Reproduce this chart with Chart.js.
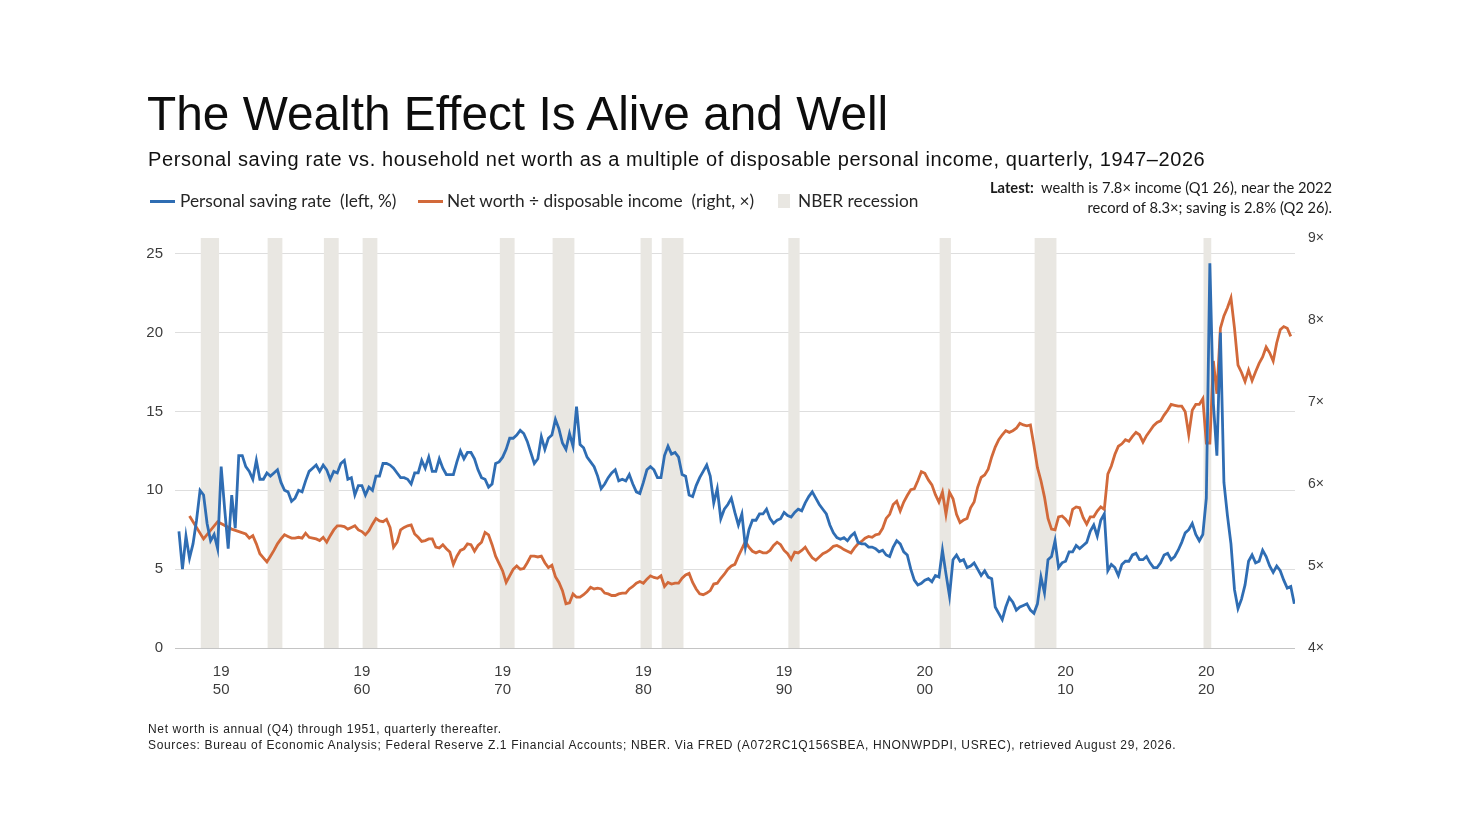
<!DOCTYPE html>
<html>
<head>
<meta charset="utf-8">
<script src="https://cdn.jsdelivr.net/npm/chart.js@4.4.1/dist/chart.umd.min.js"></script>
<style>
    body { margin: 0; background: #fff; width: 1469px; height: 826px; overflow: hidden; position: relative; font-family: "Liberation Sans", Arial, sans-serif; color: #111; }
    #wrap { position: absolute; left: 0; top: 0; width: 1469px; height: 826px; }
    .t { position: absolute; white-space: pre; }
    #title { left: 147px; top: 90px; font-size: 47.8px; line-height: 1; color: #0d0d0d; }
    #subtitle { left: 148px; top: 149px; font-size: 20px; letter-spacing: 0.6px; line-height: 1; color: #111; }
    .leg { top: 190px; height: 22px; line-height: 22px; font-family: Lato, "Open Sans", sans-serif; font-size: 17.3px; color: #262626; }
    .swatch { position: absolute; top: 200px; height: 3px; width: 25px; }
    #latest { right: 137px; top: 177px; text-align: right; font-family: Lato, "Open Sans", sans-serif; font-size: 14.7px; line-height: 20px; color: #1a1a1a; }
    #notes { left: 148px; top: 721px; font-size: 12px; letter-spacing: 0.65px; line-height: 16px; color: #222; }
</style>
</head>
<body>
<div id="wrap"><canvas id="wealthChart"></canvas></div>

<div class="t" id="title">The Wealth Effect Is Alive and Well</div>
<div class="t" id="subtitle">Personal saving rate vs. household net worth as a multiple of disposable personal income, quarterly, 1947–2026</div>

<div class="swatch" style="left:150px;background:#2f6db3"></div>
<div class="t leg" style="left:180px">Personal saving rate  (left, %)</div>
<div class="swatch" style="left:418px;background:#d2693a"></div>
<div class="t leg" style="left:447px">Net worth ÷ disposable income  (right, ×)</div>
<div class="t" style="left:778px;top:194px;width:12px;height:14px;background:#e9e7e2"></div>
<div class="t leg" style="left:798px">NBER recession</div>

<div class="t" id="latest"><b>Latest:</b>  wealth is 7.8× income (Q1 26), near the 2022
record of 8.3×; saving is 2.8% (Q2 26).</div>

<div class="t" id="notes">Net worth is annual (Q4) through 1951, quarterly thereafter.
Sources: Bureau of Economic Analysis; Federal Reserve Z.1 Financial Accounts; NBER. Via FRED (A072RC1Q156SBEA, HNONWPDPI, USREC), retrieved August 29, 2026.</div>

<script>
// Premier trimestre de la série : 1947 Q1
const firstYear = 1947;

// Taux d'épargne personnelle (%), trimestriel, 1947 Q1 -> 2026 Q2
const savingRate = [
    7.4, 5.0, 7.1, 5.7,      // 1947
    6.6, 8.1, 10.0, 9.7,     // 1948
    7.9, 6.8, 7.2, 6.3,      // 1949
    11.5, 8.8, 6.3, 9.7,     // 1950
    7.6, 12.2, 12.2, 11.5,   // 1951
    11.2, 10.7, 11.9, 10.7,  // 1952
    10.7, 11.1, 10.9, 11.1,  // 1953
    11.3, 10.5, 10.0, 9.9,   // 1954
    9.3, 9.5, 10.0, 9.9,     // 1955
    10.6, 11.2, 11.4, 11.6,  // 1956
    11.2, 11.6, 11.3, 10.7,  // 1957
    11.2, 11.1, 11.7, 11.9,  // 1958
    10.7, 10.8, 9.7, 10.3,   // 1959
    10.3, 9.7, 10.2, 10.0,   // 1960
    10.9, 10.9, 11.7, 11.7,  // 1961
    11.6, 11.4, 11.1, 10.8,  // 1962
    10.8, 10.7, 10.4, 11.1,  // 1963
    11.1, 11.9, 11.4, 12.1,  // 1964
    11.2, 11.2, 12.0, 11.4,  // 1965
    11.0, 11.0, 11.0, 11.8,  // 1966
    12.5, 12.0, 12.4, 12.4,  // 1967
    12.0, 11.3, 10.8, 10.7,  // 1968
    10.2, 10.4, 11.7, 11.8,  // 1969
    12.1, 12.6, 13.3, 13.3,  // 1970
    13.5, 13.8, 13.6, 13.1,  // 1971
    12.4, 11.7, 12.0, 13.4,  // 1972
    12.6, 13.3, 13.5, 14.5,  // 1973
    13.9, 13.0, 12.6, 13.6,  // 1974
    12.8, 15.3, 12.9, 12.7,  // 1975
    12.1, 11.8, 11.5, 10.9,  // 1976
    10.1, 10.4, 10.8, 11.1,  // 1977
    11.3, 10.6, 10.7, 10.6,  // 1978
    11.0, 10.4, 9.9, 9.8,    // 1979
    10.5, 11.3, 11.5, 11.3,  // 1980
    10.8, 10.8, 12.2, 12.8,  // 1981
    12.3, 12.4, 12.1, 11.0,  // 1982
    10.9, 9.7, 9.6, 10.3,    // 1983
    10.8, 11.2, 11.6, 10.9,  // 1984
    9.2, 10.1, 8.2, 8.8,     // 1985
    9.1, 9.5, 8.6, 7.8,      // 1986
    8.5, 6.4, 7.5, 8.1,      // 1987
    8.1, 8.5, 8.5, 8.8,      // 1988
    8.2, 7.9, 8.1, 8.2,      // 1989
    8.6, 8.4, 8.3, 8.6,      // 1990
    8.8, 8.7, 9.2, 9.6,      // 1991
    9.9, 9.5, 9.1, 8.8,      // 1992
    8.5, 7.8, 7.3, 7.0,      // 1993
    6.9, 7.0, 6.8, 7.1,      // 1994
    7.3, 6.7, 6.6, 6.6,      // 1995
    6.4, 6.4, 6.3, 6.1,      // 1996
    6.2, 5.9, 5.8, 6.4,      // 1997
    6.8, 6.6, 6.1, 5.9,      // 1998
    5.0, 4.3, 4.0, 4.1,      // 1999
    4.3, 4.4, 4.2, 4.6,      // 2000
    4.5, 6.2, 4.7, 3.3,      // 2001
    5.6, 5.9, 5.5, 5.6,      // 2002
    5.1, 5.2, 5.4, 5.0,      // 2003
    4.6, 4.9, 4.5, 4.4,      // 2004
    2.6, 2.2, 1.8, 2.6,      // 2005
    3.2, 2.9, 2.4, 2.6,      // 2006
    2.7, 2.8, 2.4, 2.2,      // 2007
    2.8, 4.5, 3.5, 5.6,      // 2008
    5.8, 6.8, 5.1, 5.4,      // 2009
    5.5, 6.1, 6.1, 6.5,      // 2010
    6.3, 6.5, 6.7, 7.4,      // 2011
    7.8, 7.1, 8.1, 8.5,      // 2012
    4.9, 5.3, 5.1, 4.6,      // 2013
    5.3, 5.5, 5.5, 5.9,      // 2014
    6.0, 5.6, 5.6, 5.8,      // 2015
    5.4, 5.1, 5.1, 5.4,      // 2016
    5.9, 6.0, 5.6, 5.8,      // 2017
    6.2, 6.7, 7.3, 7.5,      // 2018
    7.9, 7.2, 6.8, 7.2,      // 2019
    9.5, 24.4, 15.5, 12.2,   // 2020
    20.0, 10.5, 8.4, 6.6,    // 2021
    3.7, 2.5, 3.1, 4.0,      // 2022
    5.5, 5.9, 5.4, 5.5,      // 2023
    6.2, 5.8, 5.2, 4.8,      // 2024
    5.2, 4.9, 4.3, 3.8,      // 2025
    3.9, 2.8                 // 2026
];

// Patrimoine net / revenu disponible (×) : annuel (T4) jusqu'en 1951, puis trimestriel
const netWorthRatio = [
    null, null, null, 5.61,  // 1947
    null, null, null, 5.33,  // 1948
    null, null, null, 5.54,  // 1949
    null, null, null, 5.45,  // 1950
    null, null, null, 5.39,  // 1951
    5.34, 5.37, 5.27, 5.15,  // 1952
    5.10, 5.05, 5.12, 5.19,  // 1953
    5.27, 5.33, 5.38, 5.36,  // 1954
    5.34, 5.34, 5.35, 5.34,  // 1955
    5.40, 5.35, 5.34, 5.33,  // 1956
    5.31, 5.35, 5.29, 5.37,  // 1957
    5.44, 5.49, 5.49, 5.48,  // 1958
    5.45, 5.47, 5.49, 5.44,  // 1959
    5.42, 5.38, 5.43, 5.51,  // 1960
    5.58, 5.55, 5.54, 5.57,  // 1961
    5.47, 5.23, 5.29, 5.44,  // 1962
    5.47, 5.49, 5.50, 5.39,  // 1963
    5.35, 5.30, 5.31, 5.33,  // 1964
    5.33, 5.23, 5.22, 5.26,  // 1965
    5.21, 5.17, 5.02, 5.12,  // 1966
    5.19, 5.21, 5.27, 5.26,  // 1967
    5.18, 5.25, 5.29, 5.41,  // 1968
    5.38, 5.26, 5.12, 5.03,  // 1969
    4.94, 4.80, 4.88, 4.96,  // 1970
    5.00, 4.96, 4.97, 5.04,  // 1971
    5.12, 5.12, 5.11, 5.12,  // 1972
    5.04, 4.98, 5.01, 4.87,  // 1973
    4.80, 4.70, 4.54, 4.55,  // 1974
    4.66, 4.62, 4.62, 4.65,  // 1975
    4.69, 4.74, 4.72, 4.73,  // 1976
    4.72, 4.67, 4.66, 4.64,  // 1977
    4.64, 4.66, 4.67, 4.67,  // 1978
    4.72, 4.75, 4.79, 4.81,  // 1979
    4.79, 4.84, 4.88, 4.86,  // 1980
    4.85, 4.88, 4.75, 4.80,  // 1981
    4.78, 4.79, 4.79, 4.85,  // 1982
    4.89, 4.91, 4.80, 4.72,  // 1983
    4.66, 4.65, 4.67, 4.70,  // 1984
    4.78, 4.79, 4.85, 4.90,  // 1985
    4.96, 5.00, 5.02, 5.12,  // 1986
    5.21, 5.30, 5.23, 5.18,  // 1987
    5.16, 5.18, 5.16, 5.16,  // 1988
    5.19, 5.25, 5.29, 5.26,  // 1989
    5.19, 5.15, 5.08, 5.17,  // 1990
    5.16, 5.19, 5.23, 5.16,  // 1991
    5.10, 5.07, 5.11, 5.15,  // 1992
    5.17, 5.20, 5.24, 5.25,  // 1993
    5.23, 5.20, 5.18, 5.16,  // 1994
    5.22, 5.27, 5.30, 5.34,  // 1995
    5.36, 5.35, 5.38, 5.39,  // 1996
    5.46, 5.58, 5.63, 5.75,  // 1997
    5.79, 5.67, 5.78, 5.86,  // 1998
    5.93, 5.94, 6.04, 6.15,  // 1999
    6.13, 6.05, 5.99, 5.87,  // 2000
    5.78, 5.90, 5.63, 5.90,  // 2001
    5.82, 5.63, 5.53, 5.56,  // 2002
    5.58, 5.71, 5.78, 5.96,  // 2003
    6.08, 6.11, 6.18, 6.33,  // 2004
    6.45, 6.54, 6.60, 6.65,  // 2005
    6.63, 6.65, 6.68, 6.74,  // 2006
    6.72, 6.71, 6.72, 6.47,  // 2007
    6.20, 6.04, 5.84, 5.58,  // 2008
    5.45, 5.44, 5.60, 5.61,  // 2009
    5.57, 5.51, 5.69, 5.72,  // 2010
    5.71, 5.59, 5.51, 5.60,  // 2011
    5.60, 5.67, 5.72, 5.69,  // 2012
    6.12, 6.22, 6.36, 6.46,  // 2013
    6.49, 6.54, 6.52, 6.58,  // 2014
    6.63, 6.60, 6.51, 6.59,  // 2015
    6.65, 6.71, 6.75, 6.77,  // 2016
    6.84, 6.90, 6.97, 6.96,  // 2017
    6.95, 6.95, 6.88, 6.60,  // 2018
    6.90, 6.97, 6.97, 7.04,  // 2019
    6.50, 6.50, 7.50, 7.10,  // 2020
    7.90, 8.05, 8.15, 8.27,  // 2021
    7.90, 7.45, 7.36, 7.25,  // 2022
    7.39, 7.26, 7.37, 7.47,  // 2023
    7.55, 7.67, 7.60, 7.50,  // 2024
    7.72, 7.88, 7.92, 7.90,  // 2025
    7.80                     // 2026
];

// Récessions NBER (premier et dernier trimestre)
const recessions = [
    ['1948Q4', '1949Q4'], ['1953Q3', '1954Q2'], ['1957Q3', '1958Q2'],
    ['1960Q2', '1961Q1'], ['1970Q1', '1970Q4'], ['1973Q4', '1975Q1'],
    ['1980Q1', '1980Q3'], ['1981Q3', '1982Q4'], ['1990Q3', '1991Q1'],
    ['2001Q2', '2001Q4'], ['2008Q1', '2009Q2'], ['2020Q1', '2020Q2']
];

// Graduations
const decadeTicks = [1950, 1960, 1970, 1980, 1990, 2000, 2010, 2020];
const leftTicks = [0, 5, 10, 15, 20, 25];
const rightTicks = [4, 5, 6, 7, 8, 9];

// Utilitaires
function quarterToYear(q) {
    return parseInt(q.slice(0, 4), 10) + (parseInt(q.slice(5), 10) - 1) / 4;
}

function toPoints(values) {
    return values.map((v, i) => ({ x: firstYear + i / 4, y: v }));
}

const tickFont = { family: '"Liberation Sans", Arial, sans-serif', size: 15 };
const tickColor = '#3d3d3d';

// Bandes de récession dessinées sous les courbes
const recessionBands = {
    id: 'recessionBands',
    beforeDatasetsDraw(chart) {
        const { ctx, chartArea, scales } = chart;
        ctx.save();
        ctx.fillStyle = '#e9e7e2';
        recessions.forEach(([start, end]) => {
            const x1 = scales.x.getPixelForValue(quarterToYear(start) - 0.2);
            const x2 = scales.x.getPixelForValue(quarterToYear(end) + 0.1);
            ctx.fillRect(x1, chartArea.top, x2 - x1, chartArea.bottom - chartArea.top);
        });
        ctx.restore();
    }
};

new Chart(document.getElementById('wealthChart'), {
    type: 'line',
    data: {
        datasets: [{
            label: 'Personal saving rate (left, %)',
            data: toPoints(savingRate),
            yAxisID: 'y',
            borderColor: '#2f6db3',
            borderWidth: 2.8,
            pointRadius: 0,
            tension: 0
        }, {
            label: 'Net worth ÷ disposable income (right, ×)',
            data: toPoints(netWorthRatio),
            yAxisID: 'y2',
            borderColor: '#d2693a',
            borderWidth: 2.8,
            pointRadius: 0,
            spanGaps: true,
            tension: 0
        }]
    },
    options: {
        responsive: true,
        maintainAspectRatio: false,
        animation: false,
        layout: { padding: { top: 238, left: 0, right: 0, bottom: 0 } },
        plugins: {
            legend: { display: false },
            tooltip: { enabled: false }
        },
        scales: {
            x: {
                type: 'linear',
                min: 1946.72,
                max: 2026.3,
                afterBuildTicks: (scale) => { scale.ticks = decadeTicks.map(v => ({ value: v })); },
                afterFit: (scale) => { scale.height = 178; },
                grid: { display: false },
                border: { display: false },
                ticks: {
                    font: { ...tickFont, lineHeight: 1.2 },
                    color: tickColor,
                    padding: 7,
                    maxRotation: 0,
                    callback: (v) => [String(v).slice(0, 2), String(v).slice(2)]
                }
            },
            y: {
                position: 'left',
                min: 0,
                max: 26,
                afterBuildTicks: (scale) => { scale.ticks = leftTicks.map(v => ({ value: v })); },
                afterFit: (scale) => { scale.width = 175; },
                grid: {
                    drawTicks: false,
                    color: (c) => c.tick && c.tick.value === 0 ? '#c4c4c4' : '#dedede'
                },
                border: { display: false },
                ticks: { font: tickFont, color: tickColor, padding: 12 }
            },
            y2: {
                position: 'right',
                min: 4,
                max: 9,
                afterBuildTicks: (scale) => { scale.ticks = rightTicks.map(v => ({ value: v })); },
                afterFit: (scale) => { scale.width = 174; },
                grid: { display: false, drawTicks: false },
                border: { display: false },
                ticks: {
                    font: { ...tickFont, size: 14 },
                    color: tickColor,
                    padding: 13,
                    callback: (v) => v + '×'
                }
            }
        }
    },
    plugins: [recessionBands]
});
</script>
</body>
</html>
